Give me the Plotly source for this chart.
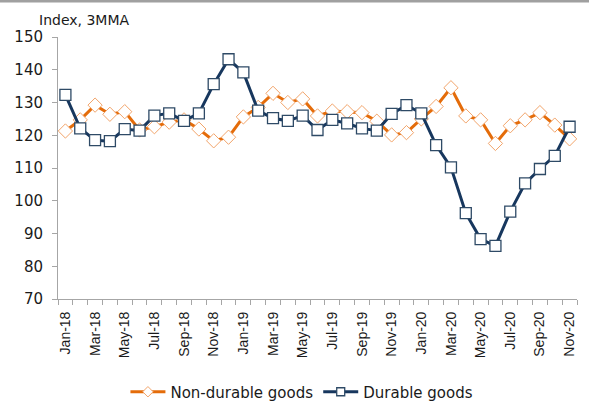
import plotly.graph_objects as go

# Monthly labels, Jan-18 .. Nov-20
months = [
    "Jan-18", "Feb-18", "Mar-18", "Apr-18", "May-18", "Jun-18", "Jul-18", "Aug-18", "Sep-18", "Oct-18", "Nov-18", "Dec-18",
    "Jan-19", "Feb-19", "Mar-19", "Apr-19", "May-19", "Jun-19", "Jul-19", "Aug-19", "Sep-19", "Oct-19", "Nov-19", "Dec-19",
    "Jan-20", "Feb-20", "Mar-20", "Apr-20", "May-20", "Jun-20", "Jul-20", "Aug-20", "Sep-20", "Oct-20", "Nov-20",
]

# Index, 3-month moving average
non_durable = [
    121.3, 124.7, 129.2, 126.4, 127.2, 121.6, 122.6, 124.0, 124.7, 121.9, 118.3, 119.4,
    125.6, 128.5, 132.8, 130.0, 131.1, 125.9, 127.4, 127.2, 126.9, 124.3, 120.1, 120.8,
    125.0, 128.8, 134.5, 125.9, 124.7, 117.5, 122.9, 124.7, 126.9, 123.1, 118.9,
]
durable = [
    132.3, 122.1, 118.5, 118.2, 121.9, 121.4, 126.0, 126.7, 124.4, 126.7, 135.6, 143.2,
    139.2, 127.5, 125.2, 124.4, 126.0, 121.6, 124.7, 123.6, 122.1, 121.4, 126.5, 129.2,
    126.7, 117.0, 110.2, 96.2, 88.3, 86.2, 96.7, 105.3, 109.7, 113.7, 122.6,
]

y_ticks = [70, 80, 90, 100, 110, 120, 130, 140, 150]

ORANGE = "#E46C0A"
NAVY = "#17375E"
AXIS_GREY = "#A6A6A6"

idx = list(range(len(months)))

series = [
    ("Non-durable goods", non_durable, ORANGE, "diamond", "#F2A46A", 1.0),
    ("Durable goods", durable, NAVY, "square", "#2E4A66", 1.3),
]

fig = go.Figure()
for name, values, color, symbol, edge, edge_w in series:
    fig.add_trace(go.Scatter(
        x=idx, y=values, name=name, mode="lines+markers", showlegend=False,
        line=dict(color=color, width=3),
        marker=dict(symbol=symbol, size=11, color="white", line=dict(color=edge, width=edge_w)),
    ))
# Legend entries with smaller key markers
for name, values, color, symbol, edge, edge_w in series:
    fig.add_trace(go.Scatter(
        x=[None], y=[None], name=name, mode="lines+markers",
        line=dict(color=color, width=3),
        marker=dict(symbol=symbol, size=8, color="white", line=dict(color=edge, width=edge_w)),
    ))

fig.update_layout(
    width=589, height=405,
    margin=dict(l=58, r=12, t=37, b=106, autoexpand=False),
    paper_bgcolor="white", plot_bgcolor="white",
    showlegend=True,
    legend=dict(orientation="h", x=0.47, xanchor="center", y=-0.355, yanchor="middle",
                font=dict(family="DejaVu Sans", size=15, color="#1a1a1a"),
                itemwidth=35, tracegroupgap=0),
    font=dict(family="DejaVu Sans", color="#1a1a1a"),
    annotations=[dict(text="Index, 3MMA", xref="paper", yref="paper", x=-0.04, y=1.025,
                      xanchor="left", yanchor="bottom", showarrow=False,
                      font=dict(family="DejaVu Sans", size=14, color="#1a1a1a"))],
    shapes=[dict(type="line", xref="paper", yref="paper",
                 x0=-0.12, x1=1.03, y0=1 + 36 / 262, y1=1 + 36 / 262,
                 line=dict(color="#A0A0A0", width=3))],
)

fig.update_xaxes(
    range=[-0.5, len(months) - 0.5], automargin=False,
    tickmode="array", tickvals=idx[::2], ticktext=months[::2],
    tickangle=-90, ticks="", ticklabelstandoff=6,
    tickfont=dict(family="Liberation Sans", size=14, color="#1a1a1a"),
    showline=True, linecolor=AXIS_GREY, linewidth=1,
    showgrid=False, zeroline=False,
    minor=dict(tickmode="linear", tick0=-0.5, dtick=1, ticks="outside",
               ticklen=5, tickcolor=AXIS_GREY, showgrid=False),
)
fig.update_yaxes(
    range=[70, 150], tickmode="array", tickvals=y_ticks, automargin=False,
    ticks="outside", ticklen=5, tickcolor=AXIS_GREY, ticklabelstandoff=6,
    tickfont=dict(family="DejaVu Sans", size=15, color="#1a1a1a"),
    showline=True, linecolor=AXIS_GREY, linewidth=1,
    showgrid=False, zeroline=False,
)

fig.write_html("out.html")
